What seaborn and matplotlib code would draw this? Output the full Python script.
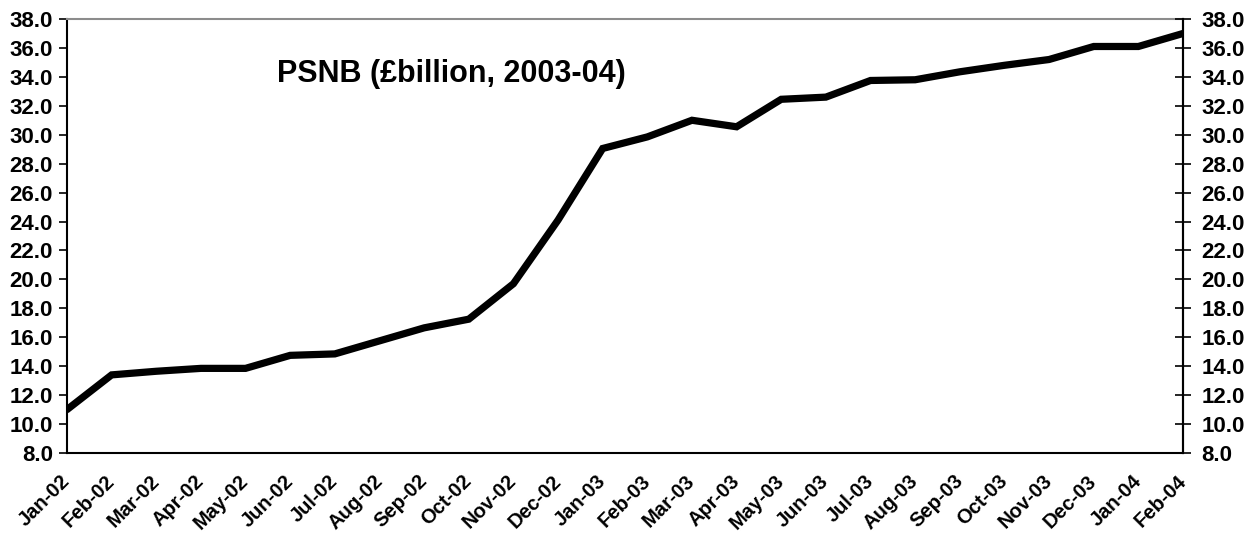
import matplotlib
matplotlib.use("Agg")
import matplotlib.pyplot as plt
import seaborn as sns
import pandas as pd

# Monthly public sector net borrowing, cumulative (£billion)
months = ["Jan-02", "Feb-02", "Mar-02", "Apr-02", "May-02", "Jun-02", "Jul-02",
          "Aug-02", "Sep-02", "Oct-02", "Nov-02", "Dec-02", "Jan-03", "Feb-03",
          "Mar-03", "Apr-03", "May-03", "Jun-03", "Jul-03", "Aug-03", "Sep-03",
          "Oct-03", "Nov-03", "Dec-03", "Jan-04", "Feb-04"]
psnb = [11.0, 13.4, 13.65, 13.85, 13.85, 14.75, 14.85, 15.75, 16.65, 17.25,
        19.7, 24.1, 29.05, 29.85, 31.0, 30.55, 32.45, 32.6, 33.75, 33.8,
        34.35, 34.8, 35.2, 36.1, 36.1, 37.0]
y_ticks = [8.0 + 2.0 * i for i in range(16)]
title_text = "PSNB (£billion, 2003-04)"

sns.set_style("white")
plt.rcParams["font.family"] = ["Liberation Sans", "DejaVu Sans"]
plt.rcParams["font.weight"] = "bold"
plt.rcParams["text.color"] = "black"
plt.rcParams["xtick.color"] = "black"
plt.rcParams["ytick.color"] = "black"
plt.rcParams["axes.labelcolor"] = "black"

df = pd.DataFrame({"pos": range(len(months)), "value": psnb})

fig = plt.figure(figsize=(12.51, 5.40), dpi=100)
ax = fig.add_axes([67 / 1251, 1 - 453 / 540, 1116 / 1251, 434 / 540])

sns.lineplot(data=df, x="pos", y="value", ax=ax, color="black",
             linewidth=5.2, solid_joinstyle="miter", zorder=3)

ax.set_xlim(0, len(months) - 1)
ax.set_ylim(8, 38)
ax.set_xlabel("")
ax.set_ylabel("")
ax.set_yticks(y_ticks)
ax.set_yticklabels([f"{v:.1f}" for v in y_ticks], fontsize=16, fontweight="bold")
ax.set_xticks(range(len(months)))
ax.set_xticklabels(months, fontsize=14.5, fontweight="bold", rotation=45,
                   ha="right", va="center", rotation_mode="anchor")

ax.tick_params(axis="y", direction="out", length=6, width=1.2, colors="black", pad=4)
ax.tick_params(axis="x", direction="out", length=6, width=1.2, colors="black", pad=12)

for side in ("left", "bottom", "right"):
    ax.spines[side].set_color("black")
    ax.spines[side].set_linewidth(1.5)
ax.spines["top"].set_color("#8c8c8c")
ax.spines["top"].set_linewidth(1.5)

# Mirrored value axis on the right
ax2 = ax.twinx()
ax2.set_ylim(ax.get_ylim())
ax2.set_yticks(y_ticks)
ax2.set_yticklabels([f"{v:.1f}" for v in y_ticks], fontsize=16, fontweight="bold")
ax2.tick_params(axis="y", direction="inout", length=12, width=1.2, colors="black", pad=7.5)
for side in ("left", "bottom", "top"):
    ax2.spines[side].set_visible(False)
ax2.spines["right"].set_color("black")
ax2.spines["right"].set_linewidth(1.5)

ax.text((277 - 67) / 1116, (453 - 81.7) / 434, title_text, transform=ax.transAxes,
        fontsize=22, fontweight="bold", color="black", ha="left", va="baseline")

fig.savefig("out.png", dpi=100)
